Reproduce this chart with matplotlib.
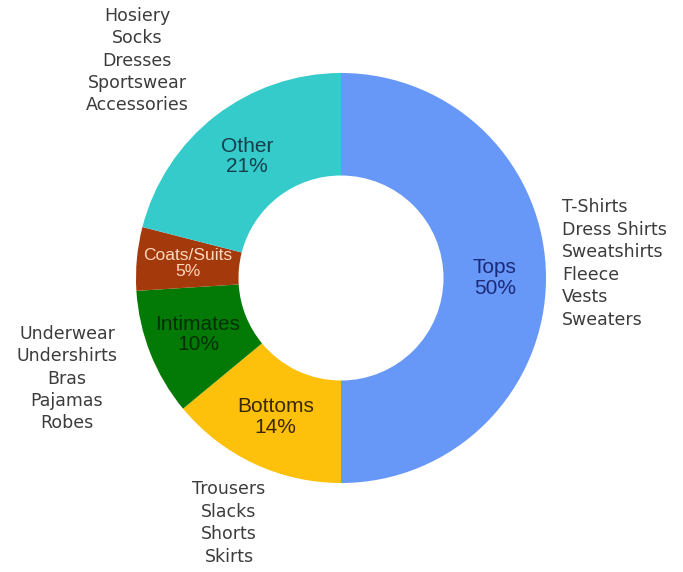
import matplotlib
matplotlib.use("Agg")
import matplotlib.pyplot as plt

# Apparel categories and their share of the total
categories = ["Tops", "Bottoms", "Intimates", "Coats/Suits", "Other"]
shares = [50, 14, 10, 5, 21]
colors = ["#6797F7", "#FDC00B", "#037A05", "#A43A0C", "#36CBCB"]
label_colors = ["#1B2A78", "#3A2800", "#022E04", "#FFD9BF", "#123F4A"]
label_sizes = [15, 15, 15, 12.5, 15]

# Items belonging to each category
tops_items = ["T-Shirts", "Dress Shirts", "Sweatshirts", "Fleece", "Vests", "Sweaters"]
bottoms_items = ["Trousers", "Slacks", "Shorts", "Skirts"]
intimates_items = ["Underwear", "Undershirts", "Bras", "Pajamas", "Robes"]
other_items = ["Hosiery", "Socks", "Dresses", "Sportswear", "Accessories"]

W, H = 683, 572
fig = plt.figure(figsize=(W / 100, H / 100), dpi=100)
ax = fig.add_axes([0, 0, 1, 1])

cx, cy, R = 341, H - 278, 205
ring = 0.50

wedges, texts = ax.pie(
    shares,
    colors=colors,
    startangle=90,
    counterclock=False,
    center=(cx, cy),
    radius=R,
    labels=[f"{c}\n{v}%" for c, v in zip(categories, shares)],
    labeldistance=1 - ring / 2,
    wedgeprops=dict(width=R * ring, linewidth=0),
    textprops=dict(family="Liberation Sans", ha="center", va="center",
                   linespacing=1.12),
)
for t, col, sz in zip(texts, label_colors, label_sizes):
    t.set_color(col)
    t.set_fontsize(sz)
    t.set_horizontalalignment("center")

ax.set_xlim(0, W)
ax.set_ylim(0, H)
ax.set_aspect("equal")
ax.axis("off")

item_style = dict(family="DejaVu Sans", fontsize=12.5, color="#3C3C3C",
                  linespacing=1.32, va="center")

ax.text(137, H - 60.5, "\n".join(other_items), ha="center",
        multialignment="center", **item_style)
ax.text(562, H - 263.5, "\n".join(tops_items), ha="left",
        multialignment="left", **item_style)
ax.text(67, H - 378.5, "\n".join(intimates_items), ha="center",
        multialignment="center", **item_style)
ax.text(229, H - 523, "\n".join(bottoms_items), ha="center",
        multialignment="center", **item_style)

fig.savefig("out.png", dpi=100)
